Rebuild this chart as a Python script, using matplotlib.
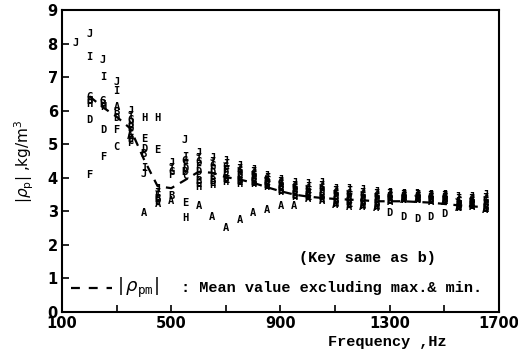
import numpy as np
import matplotlib.pyplot as plt

# frequencies of the measured points, Hz
FREQ = [150, 200, 250, 300, 350, 400, 450, 500, 550, 600, 650, 700, 750, 800, 850, 900,
        950, 1000, 1050, 1100, 1150, 1200, 1250, 1300, 1350, 1400, 1450, 1500, 1550, 1600, 1650]

# |rho_p| for each key letter (None = not plotted)
RHO_A = [None, None, None, 6.12, 5.25, 2.94, 3.22, 3.32, None, 3.16, 2.82, 2.50, 2.74, 2.95, 3.04, 3.16,
         3.16, 3.36, 3.31, 3.20, 3.14, 3.12, 3.09, 3.29, 3.34, 3.34, 3.29, 3.29, 3.09, 3.14, 3.04]
RHO_B = [None, 6.30, 6.20, 5.95, 5.47, 4.70, 3.36, 3.45, 4.16, 3.90, 3.91, 3.96, 3.90, 3.88, 3.78, 3.64,
         3.50, 3.45, 3.42, 3.31, 3.27, 3.25, 3.22, 3.35, 3.38, 3.38, 3.35, 3.33, 3.15, 3.18, 3.11]
RHO_C = [None, None, None, 4.93, 5.10, None, None, None, 4.05, 4.05, 4.02, 4.04, 3.97, 3.94, 3.82, 3.69,
         3.55, 3.50, 3.48, 3.37, 3.33, 3.31, 3.28, 3.39, 3.41, 3.41, 3.38, 3.36, 3.18, 3.21, 3.16]
RHO_D = [None, 5.72, 5.42, 5.78, 5.15, 4.85, 3.30, None, 4.27, 4.18, 4.13, 4.13, 4.04, 3.99, 3.87, 3.74,
         3.61, 3.56, 3.55, 3.43, 3.40, 3.37, 3.34, 2.96, 2.84, 2.77, 2.82, 2.92, 3.22, 3.25, 3.22]
RHO_E = [None, None, None, None, 5.35, 5.15, 4.83, None, 3.25, 3.80, 3.85, 3.92, 3.86, 3.85, 3.75, 3.62,
         3.47, 3.42, 3.38, 3.26, 3.22, 3.20, 3.17, 3.32, 3.36, 3.36, 3.32, 3.31, 3.12, 3.16, 3.08]
RHO_F = [None, 4.08, 4.63, 5.42, 5.05, None, 3.45, 4.08, 4.38, 4.32, 4.24, 4.22, 4.11, 4.05, 3.91, 3.78,
         3.66, 3.62, 3.62, 3.49, 3.46, 3.43, 3.40, 3.43, 3.44, 3.44, 3.41, 3.39, 3.27, 3.29, 3.29]
RHO_G = [None, 6.40, 6.30, None, 5.72, None, None, 4.18, 4.50, 4.46, 4.36, 4.31, 4.19, 4.10, 3.96, 3.83,
         3.72, 3.68, 3.69, 3.55, 3.53, 3.50, 3.46, 3.47, 3.47, 3.47, 3.44, 3.42, 3.32, 3.33, 3.35]
RHO_H = [None, 6.20, 6.10, None, 5.60, 5.77, 5.77, None, 2.80, 3.72, 3.79, 3.88, 3.82, 3.82, 3.73, 3.59,
         3.44, 3.39, 3.34, 3.23, 3.18, 3.16, 3.13, 3.30, 3.35, 3.35, 3.30, 3.30, 3.10, 3.15, 3.06]
RHO_I = [None, 7.60, 7.00, 6.60, 5.85, 4.30, 3.56, 4.30, 4.62, 4.60, 4.47, 4.40, 4.26, 4.16, 4.00, 3.88,
         3.77, 3.74, 3.76, 3.61, 3.60, 3.56, 3.52, 3.51, 3.50, 3.50, 3.47, 3.45, 3.38, 3.37, 3.41]
RHO_J = [8.03, 8.30, 7.50, 6.86, 5.98, 4.10, 3.68, 4.43, 5.12, 4.73, 4.58, 4.49, 4.34, 4.22, 4.05, 3.93,
         3.83, 3.80, 3.83, 3.67, 3.67, 3.63, 3.59, 3.56, 3.53, 3.53, 3.50, 3.48, 3.44, 3.42, 3.48]

# mean value excluding max and min
MEAN_FREQ = FREQ[1:]
RHO_PM = [6.43, 6.10, 5.82, 5.47, 4.55, 3.75, 3.69, 3.93, 4.18, 4.15, 4.02, 3.95, 3.85, 3.72, 3.60,
          3.50, 3.44, 3.40, 3.37, 3.35, 3.33, 3.30, 3.30, 3.30, 3.28, 3.26, 3.22, 3.18, 3.15, 3.12]

LETTERS = ['A', 'B', 'C', 'D', 'E', 'F', 'G', 'H', 'I', 'J']
SERIES = [RHO_A, RHO_B, RHO_C, RHO_D, RHO_E, RHO_F, RHO_G, RHO_H, RHO_I, RHO_J]

X_TICKS = [100, 300, 500, 700, 900, 1100, 1300, 1500, 1700]
X_LABELS = ['100', '', '500', '', '900', '', '1300', '', '1700']

MONO = 'Liberation Mono'

fig = plt.figure(figsize=(5.18, 3.58), dpi=100)
ax = fig.add_axes([0.1197, 0.1285, 0.8436, 0.8435])

for letter, vals in zip(LETTERS, SERIES):
    for f, v in zip(FREQ, vals):
        if v is None:
            continue
        ax.text(f, v, letter, ha='center', va='center', fontsize=7.5,
                fontweight='bold', family='DejaVu Sans Mono', color='black')

ax.plot(MEAN_FREQ, RHO_PM, color='black', linewidth=1.6, dashes=(4, 3))

# in-axes key
ax.plot([0.02, 0.115], [0.079, 0.079], transform=ax.transAxes, color='black',
        linewidth=1.6, dashes=(4, 4))
ax.text(0.126, 0.079, r'$|\,\rho_{\mathtt{pm}}|$', transform=ax.transAxes, ha='left',
        va='center', fontsize=13)
ax.text(0.272, 0.079, ': Mean value excluding max.& min.',
        transform=ax.transAxes, ha='left', va='center', fontsize=11,
        family=MONO, fontweight='bold')
ax.text(0.698, 0.179, '(Key same as b)', transform=ax.transAxes, ha='center',
        va='center', fontsize=11, family=MONO, fontweight='bold')

ax.set_xlim(100, 1700)
ax.set_ylim(0, 9)
ax.set_xticks(X_TICKS)
ax.set_xticklabels(X_LABELS)
ax.set_yticks(range(0, 10))
ax.tick_params(direction='in', length=5, width=1.2, labelsize=10.5, pad=3)
for lab in ax.get_xticklabels() + ax.get_yticklabels():
    lab.set_fontweight('bold')
for sp in ax.spines.values():
    sp.set_linewidth(1.5)

ax.set_xlabel('Frequency ,Hz', family=MONO, fontweight='bold', fontsize=11)
ax.xaxis.set_label_coords(0.745, -0.075)
ax.set_ylabel(r'$|\rho_\mathrm{p}|$ ,kg/m$^3$', fontsize=11, labelpad=8)

fig.savefig('out.png', dpi=100)
